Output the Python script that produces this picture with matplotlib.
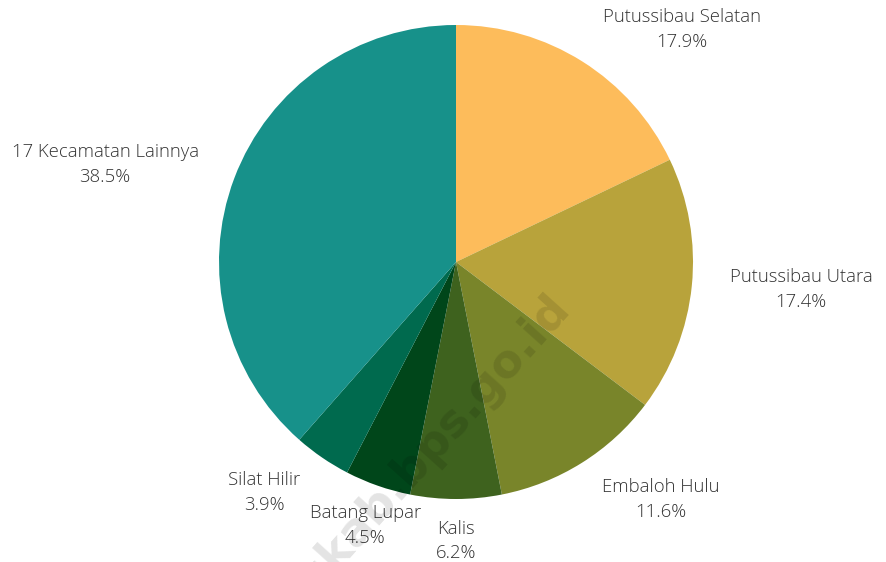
import matplotlib.pyplot as plt
import numpy as np

plt.rcParams["font.family"] = ["Open Sans", "DejaVu Sans"]

labels = [
    "Putussibau Selatan",
    "Putussibau Utara",
    "Embaloh Hulu",
    "Kalis",
    "Batang Lupar",
    "Silat Hilir",
    "17 Kecamatan Lainnya",
]
shares = [17.9, 17.4, 11.6, 6.2, 4.5, 3.9, 38.5]
colors = ["#fdbc5b", "#b8a33b", "#79852a", "#3e621e", "#00461a", "#006a4e", "#17918a"]

W, H = 886, 562
cx, cy, R = 456, H - 262, 237


def main() -> None:
    fig = plt.figure(figsize=(W / 100, H / 100), dpi=100)
    ax = fig.add_axes([0, 0, 1, 1])

    wedges, _ = ax.pie(
        shares,
        colors=colors,
        startangle=90,
        counterclock=False,
        center=(cx, cy),
        radius=R,
        wedgeprops=dict(linewidth=0),
        frame=True,
    )
    ax.set_xlim(0, W)
    ax.set_ylim(0, H)
    ax.set_aspect("equal")
    ax.axis("off")

    for w, name, val in zip(wedges, labels, shares):
        mid = np.deg2rad((w.theta1 + w.theta2) / 2)
        c, s = np.cos(mid), np.sin(mid)
        r = R + 38
        x, y = cx + r * c, cy + r * s
        if c > 0.4:
            ha = "left"
        elif c < -0.4:
            ha = "right"
        else:
            ha = "center"
        if s < -0.5:
            y -= 4
        ax.text(x, y, f"{name}\n{val}%", ha=ha, va="center", multialignment="center",
                fontsize=13.3, color="#333333", fontweight="light", linespacing=1.5)

    # faint site watermark running off the lower-left edge
    ax.text(562, H - 300, "kapuashulukab.bps.go.id", rotation=48, rotation_mode="anchor",
            ha="right", va="center", fontsize=33, fontweight="bold",
            color="black", alpha=0.11, family="DejaVu Sans")

    fig.savefig("out.png", dpi=100)
    plt.close(fig)


if __name__ == "__main__":
    main()
